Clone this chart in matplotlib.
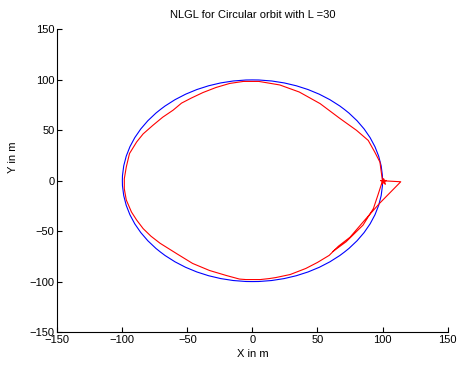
import matplotlib.pyplot as plt
from matplotlib.patches import Circle

plt.rcParams['font.family'] = ['Liberation Sans', 'DejaVu Sans']

# reference orbit
orbit_center = (0, 0)
orbit_radius = 100

# start point of the vehicle
start_x = [100]
start_y = [0]

# NLGL path
path_x = [100, 114, 98, 87, 75, 66, 59, 50, 41, 29, 18, 13, 6, -5, -10, -20, -33, -46,
          -58, -71, -78, -84, -89, -93, -97, -98.5, -98.5, -97, -94.5, -89, -84, -76.5, -69,
          -61, -54.5, -47, -38, -28, -17.5, -7, 5, 21, 36, 52, 67, 80, 89, 94, 98, 99.5,
          100, 96.5, 93, 85, 72, 62]
path_y = [0, -1, -22, -38, -56, -65, -74, -81, -87, -93, -96, -97, -98, -98, -97.5, -94,
          -89, -82, -72.5, -62, -55, -47.5, -39, -31, -19, -8, 2, 13.5, 27, 38.5, 46.5, 55, 63,
          70, 77, 82, 87.5, 92.5, 96.5, 98.5, 98.5, 95, 88, 76.5, 62, 50, 40, 28.5, 18.5, 4,
          0, -14, -27.5, -44, -60.5, -70]

x_ticks = [-150, -100, -50, 0, 50, 100, 150]
y_ticks = [-150, -100, -50, 0, 50, 100, 150]

fig = plt.figure(figsize=(4.57, 3.66), dpi=100)
ax = fig.add_axes([0.1254, 0.0929, 0.854, 0.8265])

ax.add_patch(Circle(orbit_center, orbit_radius, fill=False, color='#0000ff', lw=0.8))
ax.plot(path_x, path_y, color='#ff0000', lw=0.8)
ax.plot(start_x, start_y, '*', color='#ff0000', markersize=5, markeredgewidth=0.8)

ax.set_xlim(-150, 150)
ax.set_ylim(-150, 150)
ax.set_xticks(x_ticks)
ax.set_yticks(y_ticks)
ax.tick_params(direction='in', length=3.5, width=0.8, labelsize=8, pad=2, colors='black')
for side in ['top', 'right']:
    ax.spines[side].set_visible(False)
for side in ['left', 'bottom']:
    ax.spines[side].set_linewidth(0.8)

ax.set_title('NLGL for Circular orbit with L =30', fontsize=8, pad=8)
ax.set_xlabel('X in m', fontsize=8, labelpad=3)
ax.set_ylabel('Y in m', fontsize=8)
ax.yaxis.set_label_coords(-0.1, 0.578)

fig.savefig('out.png', dpi=100)
